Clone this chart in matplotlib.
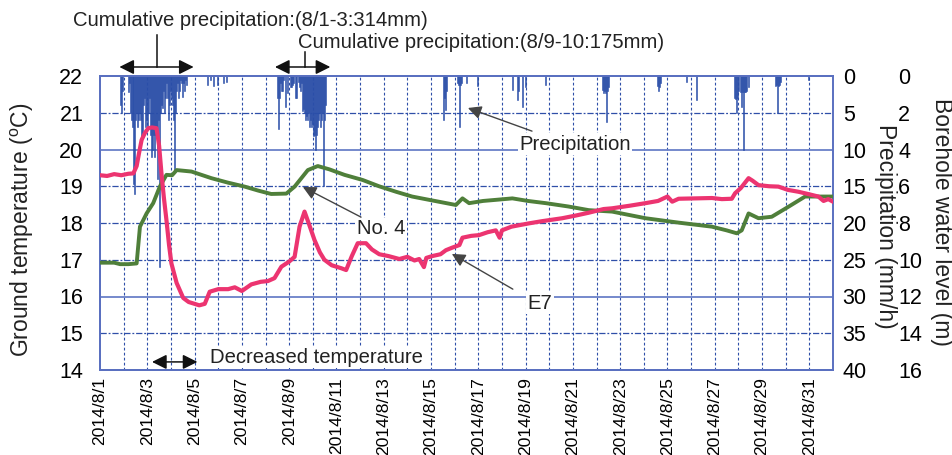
import numpy as np
import matplotlib
matplotlib.use('Agg')
import matplotlib.pyplot as plt

plt.rcParams['font.family'] = ['Liberation Sans', 'DejaVu Sans']

# day offsets from 2014/8/1 00:00
e7_day = [0, 0.3, 0.6, 0.9, 1.2, 1.41, 1.55, 1.65, 1.76, 1.9, 2.04, 2.2, 2.39, 2.5, 2.6, 2.7,
          2.81, 2.92, 3.02, 3.24, 3.52, 3.75, 4.0, 4.2, 4.43, 4.64, 5.0, 5.42, 5.7, 6.0, 6.4,
          6.8, 7.1, 7.38, 7.67, 8.0, 8.23, 8.44, 8.65, 8.85, 9.07, 9.3, 9.49, 9.8, 10.2,
          10.41, 10.65, 10.9, 11.25, 11.5, 11.81, 12.2, 12.66, 13.0, 13.3, 13.5, 13.7, 13.8,
          14.05, 14.4, 14.63, 14.9, 15.2, 15.33, 15.7, 16.03, 16.4, 16.74, 16.9, 17.0, 17.4,
          18.14, 18.7, 19.55, 20.1, 20.67, 21.3, 21.66, 22.4, 23.07, 23.6, 24.0, 24.2, 24.47,
          25.2, 25.88, 26.3, 26.72, 26.86, 27.1, 27.43, 27.6, 27.85, 28.3, 28.69, 29.1, 29.54,
          30.0, 30.38, 30.6, 30.8, 31.0]
e7_temp = [19.3, 19.28, 19.33, 19.3, 19.34, 19.35, 19.55, 19.9, 20.26, 20.45, 20.58, 20.6,
           20.58, 20.1, 19.35, 18.7, 18.08, 17.4, 16.9, 16.37, 15.96, 15.85, 15.8, 15.76, 15.8,
           16.13, 16.2, 16.2, 16.25, 16.15, 16.33, 16.4, 16.42, 16.5, 16.81, 16.95, 17.08,
           17.9, 18.31, 17.95, 17.54, 17.2, 17.0, 16.85, 16.77, 16.72, 17.1, 17.45, 17.45,
           17.28, 17.15, 17.1, 17.02, 17.08, 16.98, 17.02, 16.8, 17.05, 17.1, 17.15, 17.26,
           17.33, 17.4, 17.6, 17.65, 17.67, 17.75, 17.8, 17.6, 17.8, 17.9, 17.99, 18.05, 18.13,
           18.2, 18.28, 18.38, 18.4, 18.47, 18.54, 18.6, 18.72, 18.58, 18.66, 18.67, 18.68,
           18.65, 18.66, 18.81, 18.95, 19.22, 19.15, 19.03, 19.0, 18.99, 18.9, 18.85, 18.78,
           18.72, 18.6, 18.65, 18.58]

no4_day = [0, 0.6, 0.85, 1.2, 1.55, 1.62, 1.69, 1.97, 2.25, 2.53, 2.81, 3.05, 3.24, 3.87, 4.71,
           5.4, 6.12, 6.7, 7.24, 7.88, 8.23, 8.79, 9.21, 9.7, 10.34, 11.11, 11.8, 12.52, 13.2,
           13.92, 15.05, 15.33, 15.61, 16.2, 16.74, 17.44, 18.1, 18.85, 19.8, 20.67, 21.66,
           23.07, 24.47, 25.88, 26.5, 26.93, 27.14, 27.43, 27.85, 28.41, 29.11, 29.82, 30.38, 31.0]
no4_temp = [16.92, 16.92, 16.88, 16.88, 16.9, 17.4, 17.9, 18.26, 18.54, 18.99, 19.31, 19.3,
            19.44, 19.4, 19.22, 19.1, 18.99, 18.88, 18.79, 18.8, 18.99, 19.44, 19.55, 19.46,
            19.31, 19.17, 19.0, 18.85, 18.72, 18.63, 18.49, 18.67, 18.54, 18.6, 18.63, 18.67,
            18.6, 18.54, 18.45, 18.35, 18.31, 18.13, 18.01, 17.9, 17.8, 17.72, 17.8, 18.26,
            18.13, 18.17, 18.44, 18.72, 18.72, 18.72]

# hourly rainfall (mm/h), two main events given as start hour + consecutive hours
rain1_start = 20
rain1_mm = [4, 5, 2, 0, 0, 0, 0, 0, 2.2, 1,
            5, 6, 7, 6, 14.7, 16, 6, 5, 7, 6,
            5, 6, 9, 8, 4, 3, 7, 6, 7, 5,
            3, 8, 11, 10, 8, 11, 8, 7, 14, 6,
            26, 5, 4, 4.4, 2, 5, 3, 1, 3, 6,
            4, 2, 3, 4, 6, 12.8, 5, 2, 1, 3,
            2, 0.5, 1, 2.8, 1, 2, 0.5, 1.2]
rain2_start = 180
rain2_mm = [3, 7.2, 3, 1, 2, 2, 0.5, 0, 4.2, 0,
            2.3, 0, 0, 1.5, 1.5, 1.2, 1, 0, 3, 3,
            0, 0.8, 1.5, 2, 1, 4.7, 4.5, 5, 6, 5.5,
            6, 5, 7, 6, 7, 6.5, 8.2, 8, 10, 8,
            7, 6, 5, 7, 6, 5, 15, 6, 4]
# scattered showers: hour, mm/h
rain_hour = [109, 112, 115, 119, 125, 128,
             348, 349, 350, 351, 362, 363, 364, 365, 366, 372, 383,
             418, 423, 424, 428, 431, 452,
             510, 511, 512, 513, 514, 515, 516,
             565, 566, 567, 568, 595, 605,
             644, 645, 646, 647, 648, 650, 651, 652, 653, 654, 655, 656, 658,
             685, 686, 687, 688, 689, 690, 719]
rain_mm = [1.2, 0.6, 1.4, 1.2, 1.0, 0.8,
           6, 3, 4.6, 2, 1, 1.2, 7, 1.2, 1, 1, 1.3,
           1.9, 3.3, 2, 4.2, 1.5, 1.2,
           1.9, 2.3, 2, 2.3, 6.2, 2, 1.5,
           1.4, 2.1, 1.5, 1, 0.8, 3.3,
           3, 3.1, 5, 3, 2, 2.2, 4.2, 2.2, 10, 2.2, 2.2, 2, 1.5,
           1.4, 1.2, 5, 1.4, 1.2, 0.8, 0.6]

tick_days = list(range(0, 31, 2))
tick_labels = ['2014/8/%d' % (d + 1) for d in tick_days]

PINK = '#ec3470'
GREEN = '#4f7f3a'
BAR = '#2a4ea8'
SPINE = '#5a70c0'
GRID = '#2f4fa8'

fig = plt.figure(figsize=(9.52, 4.55), dpi=100)
rect = [100 / 952, 85 / 455, 733 / 952, 294 / 455]
ax = fig.add_axes(rect)
ax2 = ax.twinx()
ax3 = ax.twinx()
ax.set_zorder(ax2.get_zorder() + 2)
ax.patch.set_visible(False)

# precipitation bars
hours1 = rain1_start + np.arange(len(rain1_mm))
hours2 = rain2_start + np.arange(len(rain2_mm))
for hrs, mm in [(hours1, rain1_mm), (hours2, rain2_mm), (np.array(rain_hour), rain_mm)]:
    ax2.bar(np.asarray(hrs) / 24.0, mm, width=1 / 24.0, align='edge', color=BAR,
            edgecolor=BAR, linewidth=0.4, zorder=3)

# grid
for d in range(1, 31):
    ax2.axvline(d, color=GRID, lw=0.8, ls=(0, (2.5, 2)), zorder=1)
for p in [5, 15, 20, 25, 35]:
    ax2.axhline(p, color=GRID, lw=0.9, ls=(0, (5, 1.5, 1.5, 1.5)), zorder=1)
for p in [10, 30]:
    ax2.axhline(p, color='#6a80c8', lw=1.3, zorder=1)

ax.plot(no4_day, no4_temp, color=GREEN, lw=2.8, zorder=3)
ax.plot(e7_day, e7_temp, color=PINK, lw=3.0, zorder=4)

ax.set_xlim(0, 31)
ax.set_ylim(14, 22)
ax.set_yticks(range(14, 23))
ax.set_xticks(tick_days)
ax.set_xticklabels(tick_labels, rotation=90, fontsize=12.6)
ax.tick_params(axis='y', length=0, pad=12, labelsize=15.5)
ax.tick_params(axis='x', length=0, pad=5)

ax2.set_ylim(40, 0)
ax2.set_yticks(range(0, 41, 5))
ax2.tick_params(axis='y', length=0, pad=7, labelsize=15.5)
ax3.set_ylim(16, 0)
ax3.set_yticks(range(0, 17, 2))
ax3.tick_params(axis='y', length=0, pad=47, labelsize=15.5)

for a in (ax, ax2, ax3):
    for s in a.spines.values():
        s.set_color(SPINE)
        s.set_linewidth(1.2)
ax3.spines['right'].set_visible(False)

fig.text(22 / 952, 0.494, 'Ground temperature ($\\mathregular{^{o}}$C)', rotation=90,
         ha='center', va='center', fontsize=16.5, color='#222222')
fig.text(886 / 952, 0.503, 'Precipitation (mm/h)', rotation=270,
         ha='center', va='center', fontsize=16.5, color='#222222')
fig.text(942 / 952, 0.512, 'Borehole water level (m)', rotation=270,
         ha='center', va='center', fontsize=16.5, color='#222222')

# annotations
txt = dict(fontsize=14.6, color='#222222', ha='center', va='center')
white = dict(facecolor='white', edgecolor='none', pad=1)
dbl = dict(arrowstyle='<|-|>', color='#111111', lw=1.1, mutation_scale=22,
           shrinkA=0, shrinkB=0)
ptr = dict(arrowstyle='-|>', color='#444444', lw=1.0, mutation_scale=20,
           shrinkA=0, shrinkB=0)

ax.text(6.34, 23.5, 'Cumulative precipitation:(8/1-3:314mm)', clip_on=False, **txt)
ax.plot([2.41, 2.41], [23.12, 22.245], color='#111111', lw=1.1, clip_on=False)
ax.annotate('', xy=(0.82, 22.245), xytext=(3.96, 22.245), arrowprops=dbl,
            annotation_clip=False)

ax.text(16.1, 22.9, 'Cumulative precipitation:(8/9-10:175mm)', clip_on=False, **txt)
ax.plot([8.67, 8.67], [22.65, 22.245], color='#111111', lw=1.1, clip_on=False)
ax.annotate('', xy=(7.4, 22.245), xytext=(9.74, 22.245), arrowprops=dbl,
            annotation_clip=False)

ax.text(20.1, 20.14, 'Precipitation', bbox=white, zorder=6, **txt)
ax.annotate('', xy=(15.56, 21.13), xytext=(18.27, 20.5), arrowprops=ptr, zorder=6)

ax.text(11.88, 17.84, 'No. 4', bbox=white, zorder=6, **txt)
ax.annotate('', xy=(8.58, 18.98), xytext=(11.04, 18.16), arrowprops=ptr, zorder=6)

ax.text(18.6, 15.82, 'E7', bbox=white, zorder=6, **txt)
ax.annotate('', xy=(14.88, 17.16), xytext=(17.46, 16.2), arrowprops=ptr, zorder=6)

ax.text(9.15, 14.35, 'Decreased temperature', bbox=white, zorder=6, **txt)
ax.annotate('', xy=(2.2, 14.22), xytext=(4.12, 14.22), arrowprops=dbl, zorder=6)

fig.savefig('out.png', dpi=100)
